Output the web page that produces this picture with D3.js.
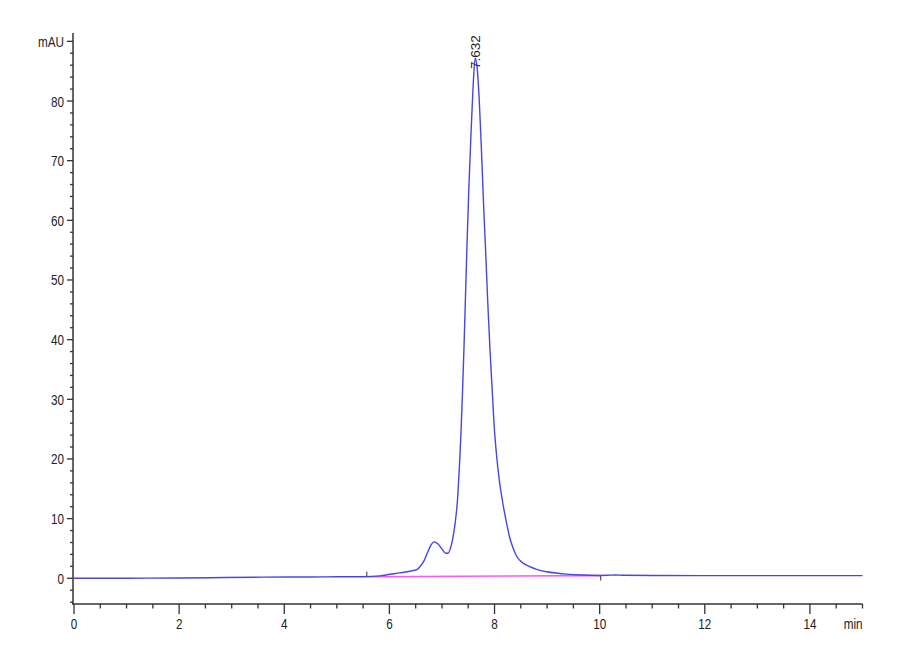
<!DOCTYPE html>
<html><head><meta charset="utf-8">
<script src="https://cdn.jsdelivr.net/npm/d3@7"></script>
<style>body{margin:0;background:#fff}svg{display:block}</style>
</head><body>
<svg id="c" width="900" height="660"></svg>
<script>
// Signal (time in min, absorbance in mAU)
const times = [0,0.5,1.0,2.0,2.6,3.6,4.5,5.0,5.5,5.82,6.01,6.2,6.33,6.45,6.52,6.58,6.65,6.72,6.78,6.85,6.92,7.0,7.07,7.12,7.16,7.20,7.25,7.30,7.33,7.36,7.39,7.42,7.45,7.48,7.51,7.55,7.59,7.632,7.67,7.71,7.75,7.79,7.83,7.87,7.91,7.95,7.99,8.04,8.09,8.15,8.23,8.29,8.36,8.42,8.52,8.67,8.8,8.99,9.2,9.37,9.7,10.0,10.15,10.3,10.45,11,12,13,14,15];
const absorb = [0,0,0.02,0.05,0.1,0.2,0.22,0.25,0.27,0.4,0.67,0.9,1.1,1.3,1.45,1.95,2.8,4.2,5.4,6.1,5.8,4.9,4.2,4.25,5.0,6.4,9.2,13.7,18.5,24,31,39,48,57,65,74,82,87.2,85.5,80,72,63,55,46.5,39,32.5,26,20.5,16.5,13,9.2,6.8,4.9,3.7,2.7,1.95,1.5,1.1,0.85,0.7,0.55,0.48,0.5,0.56,0.5,0.46,0.45,0.45,0.45,0.45];
// Integration baseline
const baseT = [5.57, 10.02];
const baseY = [0.27, 0.45];
// Peak label
const peakT = 7.632, peakY = 87.2, peakLabel = "7.632";
// Ticks
const xMajor = [0,2,4,6,8,10,12,14];
const xLabels = ["0","2","4","6","8","10","12","14"];
const yMajor = [0,10,20,30,40,50,60,70,80,90];
const yLabels = ["0","10","20","30","40","50","60","70","80","mAU"];

const svg = d3.select("#c");
const x = d3.scaleLinear().domain([0,15]).range([74,862.5]);
const y = d3.scaleLinear().domain([0,80]).range([578.3,101]);
const font = "'Liberation Sans',Arial,sans-serif";
const axisCol = "#333";
const sx = 0.78;

// Y axis
const yTop = y(91.4), yBot = 604;
svg.append("line").attr("x1",73).attr("x2",73).attr("y1",yTop).attr("y2",yBot).attr("stroke",axisCol).attr("stroke-width",1.5);
const yMinor = d3.range(-4,91,2).filter(v=>v%10!==0);
svg.selectAll(".ymin").data(yMinor).join("line").attr("x1",70).attr("x2",73).attr("y1",d=>y(d)).attr("y2",d=>y(d)).attr("stroke",axisCol).attr("stroke-width",1.3);
svg.selectAll(".ymaj").data(yMajor).join("line").attr("x1",67).attr("x2",73).attr("y1",d=>y(d)).attr("y2",d=>y(d)).attr("stroke",axisCol).attr("stroke-width",1.3);
svg.selectAll(".ylab").data(yMajor).join("text")
  .attr("transform",d=>`translate(64,${y(d)+5.5}) scale(${sx},1)`).attr("text-anchor","end")
  .attr("font-family",font).attr("font-size",15).attr("fill","#222").text((d,i)=>yLabels[i]);

// X axis
svg.append("line").attr("x1",72).attr("x2",862.5).attr("y1",yBot).attr("y2",yBot).attr("stroke",axisCol).attr("stroke-width",1.5);
const xMinor = d3.range(0.5,15.01,0.5).filter(v=>v%2!==0);
svg.selectAll(".xmin").data(xMinor).join("line").attr("x1",d=>x(d)).attr("x2",d=>x(d)).attr("y1",yBot).attr("y2",yBot+4.5).attr("stroke",axisCol).attr("stroke-width",1.3);
svg.selectAll(".xmaj").data(xMajor).join("line").attr("x1",d=>x(d)).attr("x2",d=>x(d)).attr("y1",yBot).attr("y2",yBot+10).attr("stroke",axisCol).attr("stroke-width",1.3);
svg.selectAll(".xlab").data(xMajor).join("text")
  .attr("transform",d=>`translate(${x(d)},629) scale(${sx},1)`).attr("text-anchor","middle")
  .attr("font-family",font).attr("font-size",15).attr("fill","#222").text((d,i)=>xLabels[i]);
svg.append("text").attr("transform",`translate(${x(15)},629) scale(${sx},1)`).attr("text-anchor","end")
  .attr("font-family",font).attr("font-size",15).attr("fill","#222").text("min");

// Baseline (integration)
svg.append("line").attr("x1",x(baseT[0])).attr("x2",x(baseT[1])).attr("y1",y(baseY[0])).attr("y2",y(baseY[1])).attr("stroke","#ff55ff").attr("stroke-width",1.6);
svg.append("line").attr("x1",x(baseT[0])).attr("x2",x(baseT[0])).attr("y1",y(baseY[0])).attr("y2",y(baseY[0])-5).attr("stroke","#333").attr("stroke-width",1);
svg.append("line").attr("x1",x(baseT[1])).attr("x2",x(baseT[1])).attr("y1",y(baseY[1])).attr("y2",y(baseY[1])+5).attr("stroke","#333").attr("stroke-width",1);

// Signal
const pts = times.map((t,i)=>[t,absorb[i]]);
svg.append("path").datum(pts).attr("fill","none").attr("stroke","#4646e4").attr("stroke-width",1.4)
  .attr("d",d3.line().x(d=>x(d[0])).y(d=>y(d[1])).curve(d3.curveMonotoneX));

// Peak label
svg.append("text").attr("transform",`translate(${x(peakT)+4.5},${y(peakY)+11}) rotate(-90)`)
  .attr("font-family",font).attr("font-size",13.5).attr("fill","#222").text(peakLabel);
</script>
</body></html>
